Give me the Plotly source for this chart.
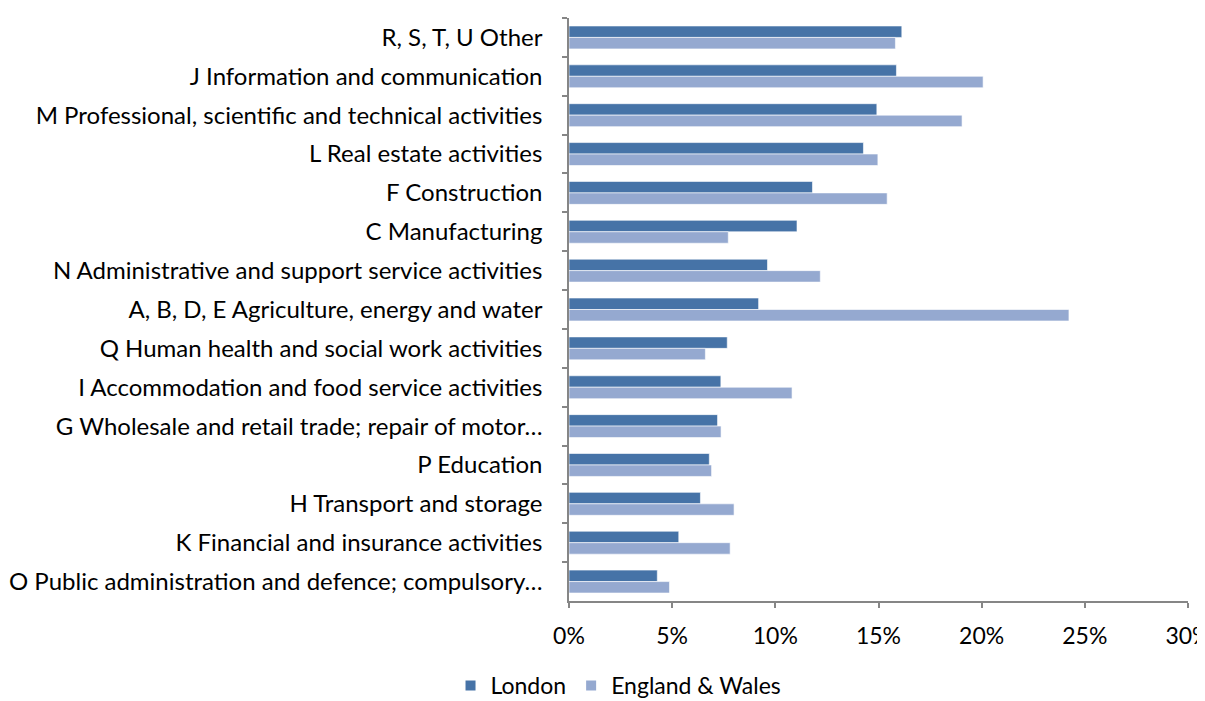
import plotly.graph_objects as go

categories = [
    "R, S, T, U Other",
    "J Information and communication",
    "M Professional, scientific and technical activities",
    "L Real estate activities",
    "F Construction",
    "C Manufacturing",
    "N Administrative and support service activities",
    "A, B, D, E Agriculture, energy and water",
    "Q Human health and social work activities",
    "I Accommodation and food service activities",
    "G Wholesale and retail trade; repair of motor…",
    "P Education",
    "H Transport and storage",
    "K Financial and insurance activities",
    "O Public administration and defence; compulsory…",
]
london = [16.13, 15.87, 14.92, 14.27, 11.80, 11.05, 9.62, 9.19, 7.67, 7.36, 7.20, 6.80, 6.37, 5.32, 4.28]
england_wales = [15.82, 20.07, 19.05, 14.97, 15.42, 7.72, 12.18, 24.23, 6.61, 10.81, 7.37, 6.91, 8.00, 7.81, 4.87]
x_ticks = [0, 5, 10, 15, 20, 25, 30]

FONT = "Lato, Carlito, Calibri, sans-serif"

fig = go.Figure()
fig.add_trace(go.Bar(
    y=categories, x=london, orientation="h", name="London",
    marker=dict(color="#4673A7", line=dict(color="#FFFFFF", width=0.6)),
))
fig.add_trace(go.Bar(
    y=categories, x=england_wales, orientation="h", name="England & Wales",
    marker=dict(color="#95A9D0", line=dict(color="#FFFFFF", width=0.6)),
))

# page body has an 8px default margin; compensate so the plot lands where the reference has it
fig.update_layout(
    width=1197, height=693,
    margin=dict(l=561, r=17, t=10, b=100, autoexpand=False),
    paper_bgcolor="white", plot_bgcolor="white",
    barmode="group", bargap=0.41, bargroupgap=0,
    font=dict(family=FONT, size=24, color="#000000"),
    showlegend=True,
    legend=dict(
        orientation="h", x=0.08, xanchor="center", y=-0.145, yanchor="middle",
        font=dict(family=FONT, size=23), traceorder="normal",
        tracegroupgap=0, itemsizing="constant",
    ),
)
fig.update_xaxes(
    range=[0, 30], tickvals=x_ticks, ticktext=[f"{v}%" for v in x_ticks],
    showgrid=False, zeroline=False,
    showline=True, linecolor="#868686", linewidth=1.5,
    ticks="outside", ticklen=5, tickcolor="#868686", tickwidth=1.5,
    ticklabelstandoff=9, ticklabeloverflow="allow",
    tickfont=dict(family=FONT, size=23, color="#000000"),
)
fig.update_yaxes(
    autorange="reversed", showgrid=False, zeroline=False,
    showline=True, linecolor="#868686", linewidth=1.5,
    ticks="outside", ticklen=5, tickcolor="#868686", tickwidth=1.5,
    tickson="boundaries", ticklabelstandoff=20,
    tickfont=dict(family=FONT, size=24, color="#000000"),
)

fig.write_html("out.html")
